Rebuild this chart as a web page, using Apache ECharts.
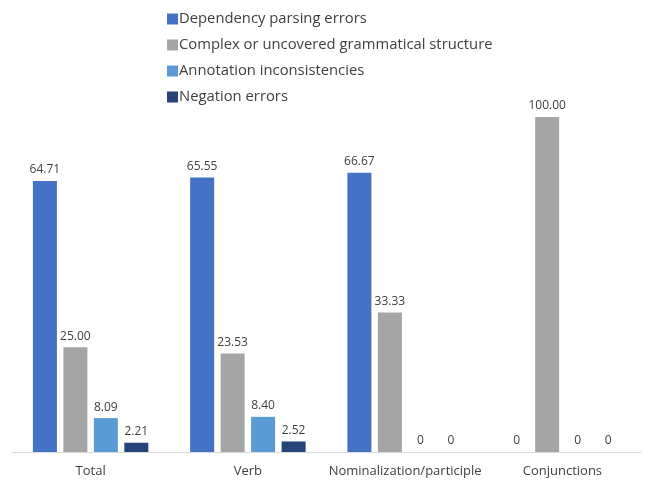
<!DOCTYPE html>
<html>
<head>
<meta charset="utf-8">
<script src="https://cdn.jsdelivr.net/npm/echarts@6/dist/echarts.min.js"></script>
<style>
  html, body { margin: 0; padding: 0; background: #ffffff; }
  #chart { width: 646px; height: 480px; }
</style>
</head>
<body>
<div id="chart"></div>
<script>
// Error categories per construction type (percent)
const categories = ['Total', 'Verb', 'Nominalization/participle', 'Conjunctions'];
const seriesNames = [
  'Dependency parsing errors',
  'Complex or uncovered grammatical structure',
  'Annotation inconsistencies',
  'Negation errors'
];
const dependencyErrors = [64.71, 65.55, 66.67, 0];
const complexStructure = [25.00, 23.53, 33.33, 100.00];
const annotationIssues = [8.09, 8.40, 0, 0];
const negationErrors = [2.21, 2.52, 0, 0];
const colors = ['#4472C4', '#A5A5A5', '#5B9BD5', '#264478'];

const values = [dependencyErrors, complexStructure, annotationIssues, negationErrors];

const fmt = p => (p.value === 0 ? '0' : p.value.toFixed(2));

const chart = echarts.init(document.getElementById('chart'));
chart.setOption({
  animation: false,
  color: colors,
  textStyle: { fontFamily: 'Open Sans' },
  legend: {
    orient: 'vertical',
    left: 162,
    top: 4,
    itemWidth: 11,
    itemHeight: 11,
    itemGap: 6,
    icon: 'rect',
    textStyle: { fontSize: 14.8, color: '#404040', fontFamily: 'Open Sans', padding: [0, 0, 0, -4], lineHeight: 20 },
    data: seriesNames
  },
  grid: { left: 12, right: 5, top: 117, bottom: 28 },
  xAxis: {
    type: 'category',
    data: categories,
    axisLine: { lineStyle: { color: '#D9D9D9', width: 1 } },
    axisTick: { show: false },
    axisLabel: { interval: 0, fontSize: 13, color: '#404040', margin: 13, fontFamily: 'Open Sans' }
  },
  yAxis: {
    type: 'value',
    min: 0,
    max: 80,
    show: false,
    splitLine: { show: false }
  },
  series: values.map((v, i) => ({
    name: seriesNames[i],
    type: 'bar',
    data: v,
    barWidth: 24,
    barGap: '27%',
    clip: true,
    itemStyle: { color: colors[i] },
    label: {
      show: true,
      position: 'top',
      distance: 5,
      formatter: fmt,
      fontSize: 12,
      color: '#404040',
      fontFamily: 'Open Sans'
    }
  }))
});
</script>
</body>
</html>
